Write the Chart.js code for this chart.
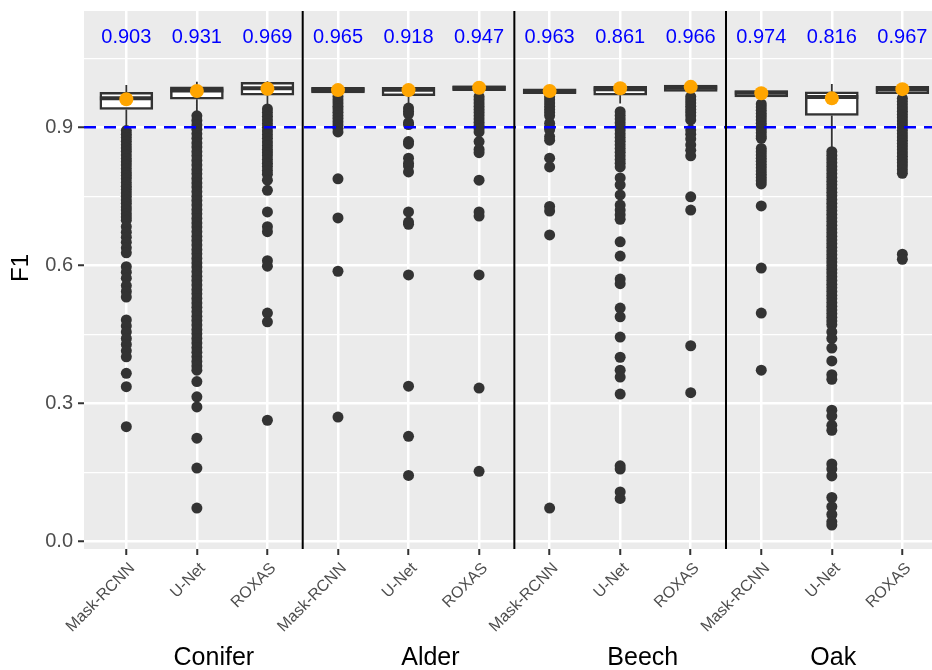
<!DOCTYPE html>
<html>
<head>
<meta charset="utf-8">
<script src="https://cdn.jsdelivr.net/npm/chart.js@4/dist/chart.umd.min.js"></script>
<style>
  body { margin: 0; background: #ffffff; }
</style>
</head>
<body>
<canvas id="chart" width="932" height="670"></canvas>
<script>
// categories
const methods = ['Mask-RCNN', 'U-Net', 'ROXAS'];
const species = ['Conifer', 'Alder', 'Beech', 'Oak'];

// labels printed above each box (one per species x method)
const f1Labels = ['0.903', '0.931', '0.969', '0.965', '0.918', '0.947', '0.963', '0.861', '0.966', '0.974', '0.816', '0.967'];

// box statistics
const boxQ1 = [0.939, 0.961, 0.970, 0.975, 0.969, 0.980, 0.973, 0.970, 0.978, 0.966, 0.926, 0.973];
const boxMedian = [0.963, 0.980, 0.985, 0.982, 0.982, 0.986, 0.979, 0.983, 0.986, 0.975, 0.966, 0.983];
const boxQ3 = [0.976, 0.988, 0.998, 0.987, 0.987, 0.990, 0.984, 0.989, 0.992, 0.980, 0.977, 0.989];
const whiskerLow = [0.897, 0.930, 0.945, 0.970, 0.952, 0.975, 0.968, 0.952, 0.970, 0.958, 0.855, 0.965];
const whiskerHigh = [0.992, 0.999, 1.000, 0.992, 0.992, 0.995, 0.989, 0.994, 0.997, 0.985, 0.994, 0.994];
const means = [0.961, 0.979, 0.984, 0.981, 0.981, 0.986, 0.979, 0.985, 0.988, 0.974, 0.963, 0.983];

// outliers per box
const outliers = [
  [0.893, 0.885, 0.878, 0.870, 0.862, 0.855, 0.848, 0.840, 0.832, 0.825, 0.818, 0.810, 0.802, 0.795, 0.788, 0.780,
   0.772, 0.765, 0.757, 0.750, 0.742, 0.735, 0.727, 0.720, 0.712, 0.705, 0.698, 0.684, 0.672, 0.661, 0.650, 0.638,
   0.627, 0.597, 0.585, 0.572, 0.556, 0.543, 0.531, 0.481, 0.468, 0.455, 0.441, 0.428, 0.414, 0.401, 0.365, 0.336, 0.249],
  [0.925, 0.915, 0.905, 0.896, 0.886, 0.876, 0.866, 0.857, 0.847, 0.838, 0.828, 0.818, 0.808, 0.799, 0.789, 0.779,
   0.770, 0.760, 0.750, 0.741, 0.731, 0.721, 0.712, 0.702, 0.692, 0.683, 0.673, 0.663, 0.654, 0.644, 0.634, 0.625,
   0.615, 0.605, 0.596, 0.586, 0.576, 0.567, 0.557, 0.547, 0.538, 0.528, 0.518, 0.509, 0.499, 0.489, 0.480, 0.470,
   0.460, 0.451, 0.441, 0.431, 0.421, 0.411, 0.401, 0.391, 0.381, 0.372, 0.347, 0.314, 0.292, 0.224, 0.159, 0.072],
  [0.940, 0.932, 0.924, 0.916, 0.908, 0.900, 0.892, 0.884, 0.876, 0.868, 0.860, 0.852, 0.845, 0.838, 0.830, 0.822,
   0.815, 0.806, 0.798, 0.785, 0.763, 0.716, 0.684, 0.673, 0.610, 0.598, 0.496, 0.477, 0.263],
  [0.967, 0.960, 0.953, 0.946, 0.940, 0.933, 0.926, 0.919, 0.912, 0.905, 0.898, 0.890, 0.788, 0.703, 0.587, 0.270],
  [0.942, 0.935, 0.929, 0.910, 0.906, 0.869, 0.864, 0.833, 0.822, 0.816, 0.803, 0.716, 0.694, 0.689, 0.579, 0.337, 0.228, 0.143],
  [0.967, 0.960, 0.953, 0.946, 0.939, 0.932, 0.925, 0.918, 0.911, 0.904, 0.897, 0.890, 0.869, 0.852, 0.845, 0.785,
   0.716, 0.707, 0.579, 0.333, 0.152],
  [0.967, 0.960, 0.953, 0.946, 0.939, 0.932, 0.925, 0.909, 0.900, 0.895, 0.880, 0.872, 0.833, 0.814, 0.728, 0.718, 0.666, 0.072],
  [0.934, 0.926, 0.918, 0.910, 0.902, 0.894, 0.886, 0.878, 0.870, 0.862, 0.854, 0.846, 0.838, 0.830, 0.822, 0.814,
   0.790, 0.775, 0.753, 0.731, 0.720, 0.710, 0.700, 0.651, 0.620, 0.570, 0.560, 0.507, 0.488, 0.444, 0.400, 0.372,
   0.357, 0.320, 0.164, 0.157, 0.107, 0.093],
  [0.967, 0.960, 0.953, 0.946, 0.939, 0.932, 0.925, 0.916, 0.894, 0.885, 0.875, 0.862, 0.850, 0.838, 0.749, 0.720, 0.425, 0.323],
  [0.951, 0.944, 0.937, 0.930, 0.923, 0.916, 0.909, 0.902, 0.895, 0.888, 0.881, 0.876, 0.854, 0.847, 0.840, 0.833,
   0.826, 0.819, 0.812, 0.805, 0.798, 0.791, 0.784, 0.777, 0.729, 0.594, 0.496, 0.372],
  [0.847, 0.839, 0.831, 0.823, 0.815, 0.807, 0.799, 0.791, 0.783, 0.775, 0.767, 0.759, 0.751, 0.743, 0.735, 0.727,
   0.719, 0.711, 0.703, 0.695, 0.687, 0.679, 0.671, 0.663, 0.655, 0.647, 0.639, 0.631, 0.623, 0.615, 0.607, 0.599,
   0.591, 0.583, 0.575, 0.567, 0.559, 0.551, 0.543, 0.535, 0.527, 0.519, 0.511, 0.503, 0.495, 0.487, 0.479, 0.471,
   0.455, 0.441, 0.420, 0.392, 0.362, 0.352, 0.285, 0.272, 0.252, 0.241, 0.168, 0.157, 0.142, 0.095, 0.075, 0.058, 0.042, 0.035],
  [0.963, 0.956, 0.949, 0.942, 0.935, 0.928, 0.921, 0.914, 0.907, 0.900, 0.893, 0.886, 0.879, 0.872, 0.865, 0.858,
   0.851, 0.844, 0.837, 0.830, 0.823, 0.816, 0.808, 0.800, 0.624, 0.613]
];

// axis ticks
const yMajor = [0, 0.3, 0.6, 0.9];
const yTickLabels = ['0.0', '0.3', '0.6', '0.9'];
const yMinor = [0.15, 0.45, 0.75, 1.05];
const threshold = 0.9;
const yTitle = 'F1';

// layout bits
const xMin = -0.6, xMax = 11.42;
const yMin = -0.017, yMax = 1.153;
const labelY = 1.095;
const groupCenters = [1.24, 4.31, 7.32, 10.02];
const separators = [2.5, 5.5, 8.5];
const boxHalf = 0.375;
const FONT = '"Liberation Sans", Arial, sans-serif';

const boxData = boxQ1.map((q, i) => ({ x: i, y: [q, boxQ3[i]] }));

const whiskerData = [];
boxQ1.forEach((q, i) => {
    whiskerData.push({ x: i, y: whiskerHigh[i] }, { x: i, y: boxQ3[i] }, { x: i, y: null });
    whiskerData.push({ x: i, y: q }, { x: i, y: whiskerLow[i] }, { x: i, y: null });
});

const medianData = [];
boxMedian.forEach((m, i) => {
    medianData.push({ x: i - boxHalf, y: m }, { x: i + boxHalf, y: m }, { x: i + boxHalf, y: null });
});

const outlierData = [];
outliers.forEach((list, i) => {
    list.forEach(v => outlierData.push({ x: i, y: v }));
});

const meanData = means.map((m, i) => ({ x: i, y: m }));

const sepData = [];
separators.forEach(s => {
    sepData.push({ x: s, y: yMin }, { x: s, y: yMax }, { x: s, y: null });
});

const backgroundPlugin = {
    id: 'panelBackground',
    beforeDraw(chart) {
        const ctx = chart.ctx;
        const a = chart.chartArea;
        ctx.save();
        ctx.fillStyle = '#ffffff';
        ctx.fillRect(0, 0, chart.width, chart.height);
        ctx.fillStyle = '#EBEBEB';
        ctx.fillRect(a.left, a.top, a.right - a.left, a.bottom - a.top);
        ctx.restore();
    }
};

const textPlugin = {
    id: 'extraText',
    afterDraw(chart) {
        const ctx = chart.ctx;
        const x = chart.scales.x;
        const y = chart.scales.y;
        ctx.save();
        // values above the boxes
        ctx.fillStyle = '#0000FF';
        ctx.font = '20px ' + FONT;
        ctx.textAlign = 'center';
        ctx.textBaseline = 'middle';
        f1Labels.forEach((t, i) => {
            ctx.fillText(t, x.getPixelForValue(i), y.getPixelForValue(labelY));
        });
        // species names under the method labels
        ctx.fillStyle = '#000000';
        ctx.font = '25px ' + FONT;
        ctx.textBaseline = 'alphabetic';
        species.forEach((s, i) => {
            ctx.fillText(s, x.getPixelForValue(groupCenters[i]), 665);
        });
        // y title
        ctx.font = '24px ' + FONT;
        ctx.translate(21, 268);
        ctx.rotate(-Math.PI / 2);
        ctx.textBaseline = 'middle';
        ctx.fillText(yTitle, 0, 0);
        ctx.restore();
    }
};

new Chart(document.getElementById('chart'), {
    type: 'scatter',
    data: {
        datasets: [
            {
                type: 'line', data: sepData, order: 0,
                borderColor: '#000000', borderWidth: 2, pointRadius: 0, spanGaps: false
            },
            {
                type: 'line', data: [{ x: xMin, y: threshold }, { x: xMax, y: threshold }], order: 1,
                borderColor: '#0000FF', borderWidth: 2.5, borderDash: [12, 8], pointRadius: 0
            },
            {
                type: 'scatter', data: meanData, order: 2,
                backgroundColor: '#FFA500', borderWidth: 0, pointRadius: 7
            },
            {
                type: 'scatter', data: outlierData, order: 3,
                backgroundColor: '#333333', borderWidth: 0, pointRadius: 5.5
            },
            {
                type: 'line', data: medianData, order: 4,
                borderColor: '#333333', borderWidth: 4, pointRadius: 0, spanGaps: false, borderCapStyle: 'butt'
            },
            {
                type: 'bar', data: boxData, order: 5,
                backgroundColor: '#ffffff', borderColor: '#333333', borderWidth: 2.5,
                borderSkipped: false, barThickness: 53
            },
            {
                type: 'line', data: whiskerData, order: 6,
                borderColor: '#333333', borderWidth: 1.8, pointRadius: 0, spanGaps: false
            }
        ]
    },
    options: {
        responsive: false,
        animation: false,
        devicePixelRatio: 1,
        layout: { autoPadding: false, padding: { top: 11, right: 0, left: 0, bottom: 0 } },
        plugins: { legend: { display: false }, tooltip: { enabled: false } },
        scales: {
            x: {
                type: 'linear', min: xMin, max: xMax, offset: false,
                afterBuildTicks: s => { s.ticks = boxQ1.map((q, i) => ({ value: i })); },
                afterFit: s => { s.height = 121; s.paddingLeft = 0; s.paddingRight = 0; },
                border: { display: false },
                grid: { color: '#ffffff', lineWidth: 2.5, tickColor: '#333333', tickWidth: 2, tickLength: 6, offset: false },
                ticks: {
                    autoSkip: false, minRotation: 45, maxRotation: 45, padding: 4, labelOffset: 6,
                    color: '#4D4D4D', font: { family: FONT, size: 16 },
                    callback: v => methods[Math.round(v) % 3]
                }
            },
            y: {
                min: yMin, max: yMax,
                afterBuildTicks: s => { s.ticks = yMajor.concat(yMinor).sort((a, b) => a - b).map(v => ({ value: v })); },
                afterFit: s => { s.width = 84; s.paddingTop = 0; s.paddingBottom = 0; },
                border: { display: false },
                grid: {
                    color: '#ffffff',
                    lineWidth: c => yMajor.includes(c.tick && c.tick.value) ? 2.5 : 1.2,
                    tickColor: c => yMajor.includes(c.tick && c.tick.value) ? '#333333' : 'rgba(0,0,0,0)',
                    tickWidth: 2, tickLength: 6
                },
                ticks: {
                    padding: 5, color: '#4D4D4D', font: { family: FONT, size: 20 },
                    callback: v => {
                        const k = yMajor.indexOf(v);
                        return k >= 0 ? yTickLabels[k] : '';
                    }
                }
            }
        }
    },
    plugins: [backgroundPlugin, textPlugin]
});
</script>
</body>
</html>
